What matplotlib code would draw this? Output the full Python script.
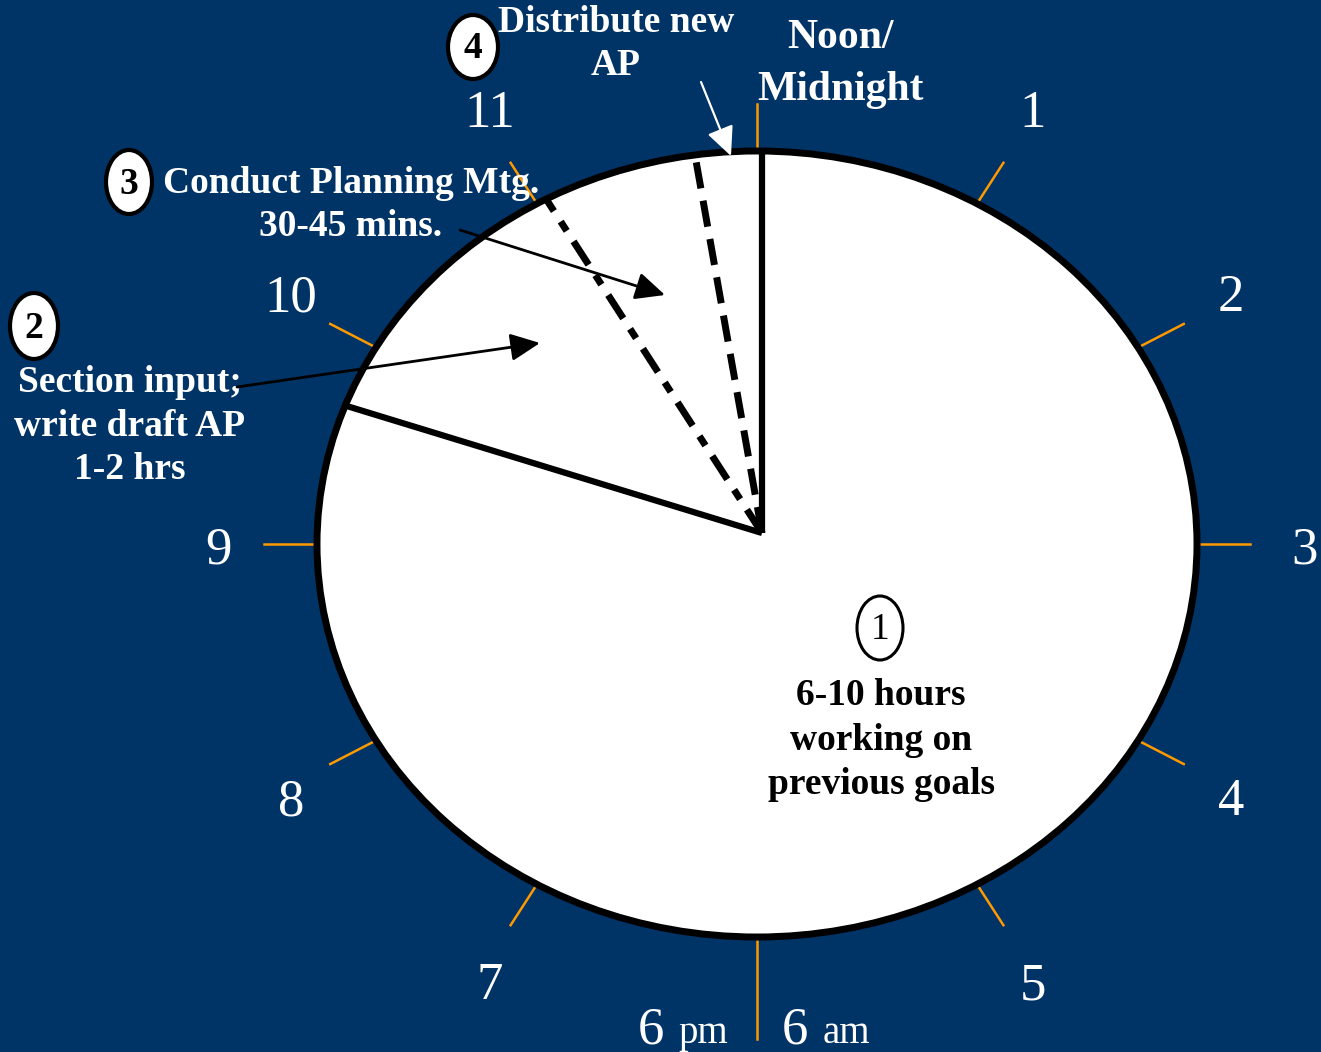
import numpy as np
import matplotlib.pyplot as plt
from matplotlib.patches import Ellipse

# clock face hours, clockwise from noon/midnight
hours = [1, 2, 3, 4, 5, 6, 7, 8, 9, 10, 11, 12]
hour_labels = ['1', '2', '3', '4', '5', '', '7', '8', '9', '10', '11', '']

# slice edges, in clock hours (12 = noon / midnight)
solid_edges = [12.0, 9.63]
dashdot_edge = 11.0   # planning meeting
dash_edge = 11.7      # distribute new AP

step_nums = ['1', '2', '3', '4']
step_texts = ['6-10 hours\nworking on\nprevious goals',
              'Section input;\nwrite draft AP\n1-2 hrs',
              'Conduct Planning Mtg.\n30-45 mins.',
              'Distribute new\nAP']

W, H = 1321, 1052
BG = '#003366'
ORANGE = '#FF9900'
SERIF = 'Liberation Serif'
CX, CY, RX, RY = 757, 544, 440, 393   # clock ellipse
HUB = (762, 533)                       # where the slice lines meet
LX, LY, LRX, LRY = 761, 550, 543, 504  # ring the hour numbers sit on


def angle(h):
    return np.radians(90 - 30 * h)


def on_ellipse(h, r=1.0):
    a = angle(h)
    return CX + r * RX * np.cos(a), CY - r * RY * np.sin(a)


def rim_from_hub(h):
    # ray from the hub to the rim, worked out in unit-circle space
    a = angle(h)
    ux, uy = np.cos(a), np.sin(a)
    hx, hy = (HUB[0] - CX) / RX, (CY - HUB[1]) / RY
    b = hx * ux + hy * uy
    t = -b + np.sqrt(b * b - (hx * hx + hy * hy - 1))
    return CX + (hx + t * ux) * RX, CY - (hy + t * uy) * RY


fig = plt.figure(figsize=(W / 100, H / 100), dpi=100, facecolor=BG)
ax = fig.add_axes([0, 0, 1, 1])
ax.set_xlim(0, W)
ax.set_ylim(H, 0)
ax.axis('off')
ax.set_facecolor(BG)

ax.add_patch(Ellipse((CX, CY), 2 * RX, 2 * RY, fc='white', ec='black', lw=5, zorder=2))

# orange hour ticks
for h in hours:
    r_out = 1.26 if h == 6 else 1.12
    x0, y0 = on_ellipse(h, 1.01)
    x1, y1 = on_ellipse(h, r_out)
    ax.plot([x0, x1], [y0, y1], color=ORANGE, lw=1.8, zorder=1)

# hour numbers
for h, lab in zip(hours, hour_labels):
    if not lab:
        continue
    a = angle(h)
    x, y = LX + LRX * np.cos(a), LY - LRY * np.sin(a)
    ax.text(x, y, lab, ha='center', va='center', fontsize=38, family=SERIF, color='white')

ax.text(651, 1043, '6', ha='center', va='baseline', fontsize=38, family=SERIF, color='white')
ax.text(678, 1043, 'pm', ha='left', va='baseline', fontsize=28, family=SERIF, color='white')
ax.text(795, 1043, '6', ha='center', va='baseline', fontsize=38, family=SERIF, color='white')
ax.text(823, 1043, 'am', ha='left', va='baseline', fontsize=28, family=SERIF, color='white')
ax.text(840, 64, 'Noon/\nMidnight', ha='center', va='center', fontsize=30, family=SERIF,
        weight='bold', color='white', linespacing=1.48)

# slice edges
for h in solid_edges:
    x, y = rim_from_hub(h)
    ax.plot([HUB[0], x], [HUB[1], y], color='black', lw=4.5, solid_capstyle='butt', zorder=3)
x, y = rim_from_hub(dashdot_edge)
ax.plot([HUB[0], x], [HUB[1], y], color='black', lw=5, linestyle=(0, (4, 1.8, 1.6, 1.8)), zorder=3)
x, y = rim_from_hub(dash_edge)
ax.plot([HUB[0], x], [HUB[1], y], color='black', lw=5, linestyle=(0, (3.8, 1.8)), zorder=3)


def circled(x, y, num, w, h, lw, bold):
    ax.add_patch(Ellipse((x, y), w, h, fc='white', ec='black', lw=lw, zorder=5))
    ax.text(x, y + 2, num, ha='center', va='center', fontsize=27, family=SERIF,
            weight='bold' if bold else 'normal', color='black', zorder=6)


# step markers and their captions
circled(880, 628, step_nums[0], 46, 64, 2.2, False)
ax.text(881, 740, step_texts[0], ha='center', va='center', fontsize=27, family=SERIF,
        weight='bold', color='black', linespacing=1.36, zorder=6)

circled(34, 326, step_nums[1], 48, 66, 3, True)
ax.text(130, 426, step_texts[1], ha='center', va='center', fontsize=27, family=SERIF,
        weight='bold', color='white', linespacing=1.33)

circled(129, 182, step_nums[2], 46, 64, 3, True)
ax.text(351, 205, step_texts[2], ha='center', va='center', fontsize=27, family=SERIF,
        weight='bold', color='white', linespacing=1.33)

circled(473, 47, step_nums[3], 50, 64, 3, True)
ax.text(616, 44, step_texts[3], ha='center', va='center', fontsize=27, family=SERIF,
        weight='bold', color='white', linespacing=1.33)

head = '-|>,head_length=0.6,head_width=0.28'
ax.annotate('', xy=(540, 343), xytext=(237, 387), zorder=7,
            arrowprops=dict(arrowstyle=head, color='black', lw=2, shrinkA=0, shrinkB=0,
                            mutation_scale=30))
ax.annotate('', xy=(665, 295), xytext=(460, 230), zorder=7,
            arrowprops=dict(arrowstyle=head, color='black', lw=2, shrinkA=0, shrinkB=0,
                            mutation_scale=30))
ax.annotate('', xy=(731, 156), xytext=(701, 82), zorder=7,
            arrowprops=dict(arrowstyle=head, color='white', lw=1.6, shrinkA=0, shrinkB=0,
                            mutation_scale=30))

fig.savefig('out.png', dpi=100, facecolor=BG)
